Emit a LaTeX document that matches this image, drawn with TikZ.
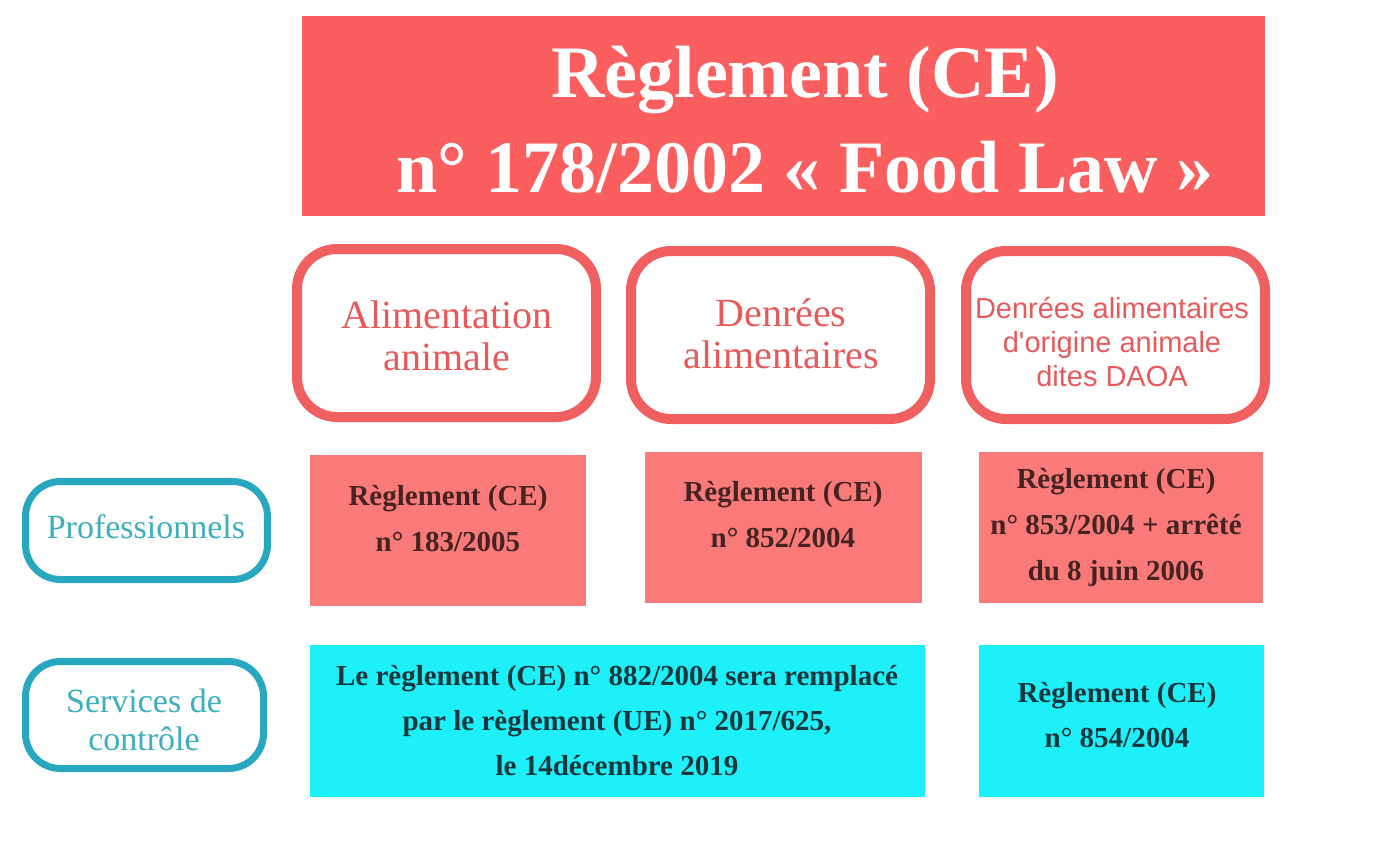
\documentclass[tikz,border=0pt]{standalone}
\usepackage{fontspec}
\setmainfont{Liberation Serif}
\newfontfamily\sansf{Liberation Sans}
\definecolor{titlefill}{RGB}{250,94,94}
\definecolor{outred}{RGB}{240,96,96}
\definecolor{redtxt}{RGB}{232,90,90}
\definecolor{salmon}{RGB}{250,122,122}
\definecolor{darktxt}{RGB}{70,35,35}
\definecolor{cyanfill}{RGB}{30,240,250}
\definecolor{cyantxt}{RGB}{25,55,60}
\definecolor{tealline}{RGB}{40,168,192}
\definecolor{tealtxt}{RGB}{60,175,190}
\tikzset{
  catbox/.style={draw=outred, line width=10pt, fill=white, rounded corners=40pt,
    minimum width=299pt, minimum height=168pt, inner sep=0pt},
  cattxt/.style={text=redtxt, align=center, inner sep=0pt, font=\fontsize{40}{42}\selectfont},
  catsans/.style={text=redtxt, align=center, inner sep=0pt, font=\sansf\fontsize{29}{34}\selectfont},
  actorbox/.style={draw=tealline, line width=7pt, fill=white, rounded corners=35pt, inner sep=0pt},
  actortxt/.style={text=tealtxt, align=center, inner sep=0pt, font=\fontsize{34}{38}\selectfont},
  regbox/.style={fill=salmon, inner sep=0pt},
  cbox/.style={fill=cyanfill, inner sep=0pt},
  regtxt/.style={text=darktxt, align=center, inner sep=0pt, font=\bfseries\fontsize{29}{46}\selectfont},
  ctxt/.style={text=cyantxt, align=center, inner sep=0pt, font=\bfseries\fontsize{29}{45}\selectfont},
}
\begin{document}
\begin{tikzpicture}[x=1pt,y=-1pt]
\useasboundingbox[fill=white] (0,0) rectangle (1400,852);
% title
\node[fill=titlefill, minimum width=963pt, minimum height=200pt, inner sep=0pt] (title) at (783.5,116) {};
\node[text=white, align=center, inner sep=0pt, font=\bfseries\fontsize{74}{95}\selectfont] (titletxt) at (805,119.5)
  {Règlement (CE)\\n° 178/2002 « Food Law »};
% categories
\node[catbox] (c1) at (446.5,333) {};
\node[cattxt] (c1t) at (447,335.5) {Alimentation\\animale};
\node[catbox] (c2) at (780.5,335) {};
\node[cattxt] (c2t) at (781,333.5) {Denrées\\alimentaires};
\node[catbox] (c3) at (1115.5,335) {};
\node[catsans] (c3t) at (1112,341.5) {Denrées alimentaires\\d'origine animale\\dites DAOA};
% actors
\node[actorbox, minimum width=242pt, minimum height=98pt] (pro) at (146.5,530.5) {};
\node[actortxt] (prot) at (146,526.5) {Professionnels};
\node[actorbox, minimum width=238pt, minimum height=107pt] (ctrl) at (144.5,715) {};
\node[actortxt] (ctrlt) at (144,719.5) {Services de\\contrôle};
% regulations professionals
\node[regbox, minimum width=276pt, minimum height=151pt] (rA) at (448,530.5) {};
\node[regtxt] (rAt) at (448,518.5) {Règlement (CE)\\n° 183/2005};
\node[regbox, minimum width=277pt, minimum height=151pt] (rB) at (783.5,527.5) {};
\node[regtxt] (rBt) at (783,515) {Règlement (CE)\\n° 852/2004};
\node[regbox, minimum width=284pt, minimum height=151pt] (rC) at (1121,527.5) {};
\node[regtxt] (rCt) at (1116,528) {Règlement (CE)\\n° 853/2004 + arrêté\\du 8 juin 2006};
% control services
\node[cbox, minimum width=615pt, minimum height=152pt] (rD) at (617.5,721) {};
\node[ctxt] (rDt) at (617,720.5) {Le règlement (CE) n° 882/2004 sera remplacé\\par le règlement (UE) n° 2017/625,\\le 14décembre 2019};
\node[cbox, minimum width=285pt, minimum height=152pt] (rE) at (1121.5,721) {};
\node[ctxt] (rEt) at (1117,715.5) {Règlement (CE)\\n° 854/2004};
\end{tikzpicture}
\end{document}
